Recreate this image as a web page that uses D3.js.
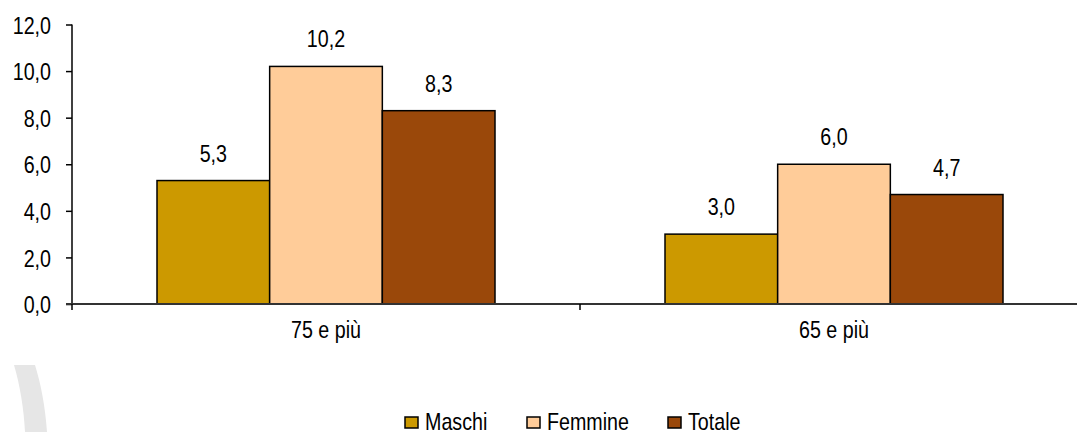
<!DOCTYPE html>
<html>
<head>
<meta charset="utf-8">
<script src="https://cdn.jsdelivr.net/npm/d3@7"></script>
<style>
  body { margin: 0; background: #fff; }
  svg text { font-family: "Liberation Sans", Arial, sans-serif; fill: #000; }
</style>
</head>
<body>
<div class="chart"></div>
<script>
var categories = ["75 e più", "65 e più"];
var seriesNames = ["Maschi", "Femmine", "Totale"];
var maschi = [5.3, 3.0];
var femmine = [10.2, 6.0];
var totale = [8.3, 4.7];
var yTicks = [0, 2, 4, 6, 8, 10, 12];
var colors = ["#CC9900", "#FFCC99", "#9A480A"];

var seriesValues = [maschi, femmine, totale];

var width = 1077, height = 432;
var squeeze = 0.82; // condensed look of the original font

var svg = d3.select(".chart").append("svg")
    .attr("width", width)
    .attr("height", height);

var locale = d3.formatLocale({decimal: ",", thousands: ".", grouping: [3], currency: ["", "€"]});
var fmt = locale.format(".1f");

// narrow the text horizontally, keeping its anchor point
function narrow(sel) {
  sel.each(function() {
    var t = d3.select(this);
    var x = +t.attr("x") || 0;
    t.attr("x", x / squeeze).attr("transform", "scale(" + squeeze + ",1)");
  });
}

// background decoration bottom-left
svg.append("path")
    .attr("d", "M14,365 L35,365 C41,385 45,405 47,432 L25,432 C24,410 20,385 14,365 Z")
    .attr("fill", "#e6e6e6");

var x0 = d3.scaleBand()
    .domain(categories)
    .range([72, 1088]);

var x1 = d3.scaleBand()
    .domain(seriesNames)
    .range([85, 423]);

var y = d3.scaleLinear()
    .domain([0, 12])
    .range([304, 24.5]);

// y axis
var yAxis = svg.append("g")
    .attr("transform", "translate(72,0)")
    .call(d3.axisLeft(y).tickValues(yTicks).tickSize(6).tickPadding(15).tickFormat(fmt));
yAxis.select(".domain").attr("stroke", "#000").attr("stroke-width", 1.5).attr("d", "M0," + y(12) + "V" + y(0));
yAxis.selectAll(".tick line").attr("stroke", "#000").attr("stroke-width", 1.5);
yAxis.selectAll(".tick text").style("font-size", "24px").attr("dy", "0.36em").call(narrow);

// bars
var groups = svg.selectAll(".grp")
    .data(categories)
    .enter().append("g")
    .attr("class", "grp")
    .attr("transform", function(d) { return "translate(" + x0(d) + ",0)"; });

groups.selectAll("rect")
    .data(function(d, i) {
        return seriesNames.map(function(s, j) { return {s: s, v: seriesValues[j][i], c: colors[j]}; });
    })
    .enter().append("rect")
    .attr("x", function(d) { return x1(d.s); })
    .attr("width", x1.bandwidth())
    .attr("y", function(d) { return y(d.v); })
    .attr("height", function(d) { return y(0) - y(d.v); })
    .attr("fill", function(d) { return d.c; })
    .attr("stroke", "#000")
    .attr("stroke-width", 1.5);

groups.selectAll(".lbl")
    .data(function(d, i) {
        return seriesNames.map(function(s, j) { return {s: s, v: seriesValues[j][i]}; });
    })
    .enter().append("text")
    .attr("class", "lbl")
    .attr("x", function(d) { return x1(d.s) + x1.bandwidth() / 2; })
    .attr("y", function(d) { return y(d.v) - 19; })
    .attr("text-anchor", "middle")
    .style("font-size", "24px")
    .text(function(d) { return fmt(d.v); })
    .call(narrow);

// x axis
var xAxis = svg.append("g")
    .attr("transform", "translate(0," + y(0) + ")");
xAxis.append("line")
    .attr("x1", 66).attr("x2", width)
    .attr("stroke", "#333").attr("stroke-width", 2);
xAxis.selectAll(".xt")
    .data(x0.domain().concat(["end"]))
    .enter().append("line")
    .attr("x1", function(d, i) { return 72 + i * x0.bandwidth(); })
    .attr("x2", function(d, i) { return 72 + i * x0.bandwidth(); })
    .attr("y1", 0).attr("y2", 6)
    .attr("stroke", "#000").attr("stroke-width", 1.5);
xAxis.selectAll(".xl")
    .data(categories)
    .enter().append("text")
    .attr("x", function(d) { return x0(d) + x0.bandwidth() / 2; })
    .attr("y", 34)
    .attr("text-anchor", "middle")
    .style("font-size", "24px")
    .text(function(d) { return d; })
    .call(narrow);

// legend
var legendX = [405, 527, 668];
var legend = svg.selectAll(".leg")
    .data(seriesNames)
    .enter().append("g")
    .attr("transform", function(d, i) { return "translate(" + legendX[i] + ",417)"; });
legend.append("rect")
    .attr("width", 13).attr("height", 11)
    .attr("fill", function(d, i) { return colors[i]; })
    .attr("stroke", "#000").attr("stroke-width", 1.5);
legend.append("text")
    .attr("x", 20).attr("y", 12.5)
    .style("font-size", "24px")
    .text(function(d) { return d; })
    .call(narrow);
</script>
</body>
</html>
